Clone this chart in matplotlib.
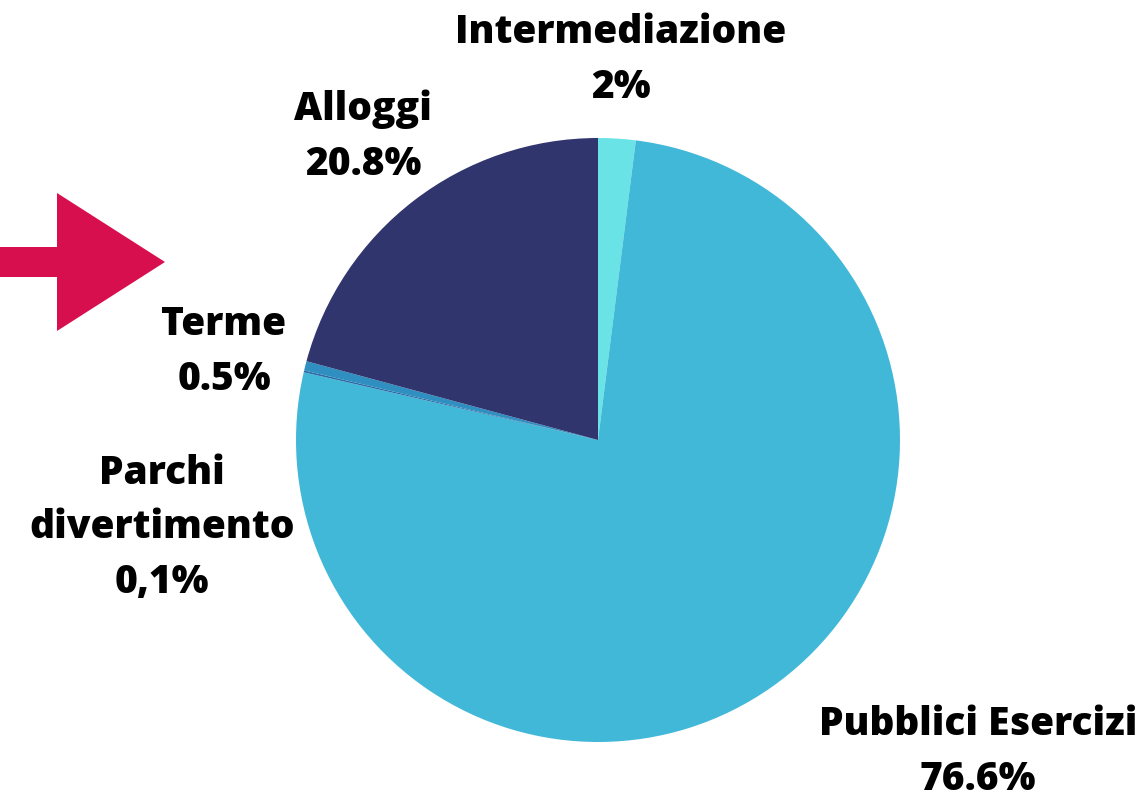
import matplotlib.pyplot as plt
import matplotlib.patches as mpatches

labels = ['Intermediazione', 'Pubblici Esercizi', 'Parchi\ndivertimento', 'Terme', 'Alloggi']
values = [2.0, 76.6, 0.1, 0.5, 20.8]
pct_text = ['2%', '76.6%', '0,1%', '0.5%', '20.8%']
colors = ['#6ae3e6', '#42b8d8', '#2a6aa6', '#2e8fc0', '#31356e']

# label anchor positions (pixel coords, top-left origin)
label_pos = [(621, 60), (978, 752), (162, 528), (224, 352), (363, 137)]

W, H = 1145, 801
fig = plt.figure(figsize=(W / 100, H / 100), dpi=100)
ax = fig.add_axes([0, 0, 1, 1])
ax.set_xlim(0, W)
ax.set_ylim(0, H)
ax.set_aspect('equal')
ax.axis('off')

ax.pie(values, colors=colors, startangle=90, counterclock=False,
       center=(598, H - 440), radius=302,
       wedgeprops=dict(linewidth=0))
ax.set_xlim(0, W)
ax.set_ylim(0, H)

for lab, p, (x, y) in zip(labels, pct_text, label_pos):
    ax.text(x, H - y, lab + '\n' + p, ha='center', va='center',
            fontsize=28, fontweight='heavy', family='Open Sans',
            linespacing=1.52, color='black')

# arrow on the left
arrow = mpatches.Polygon([(0, H - 247), (57, H - 247), (57, H - 193), (165, H - 262),
                          (57, H - 331), (57, H - 277), (0, H - 277)],
                         closed=True, color='#d80f4f', lw=0)
ax.add_patch(arrow)

fig.savefig('out.png', dpi=100)
